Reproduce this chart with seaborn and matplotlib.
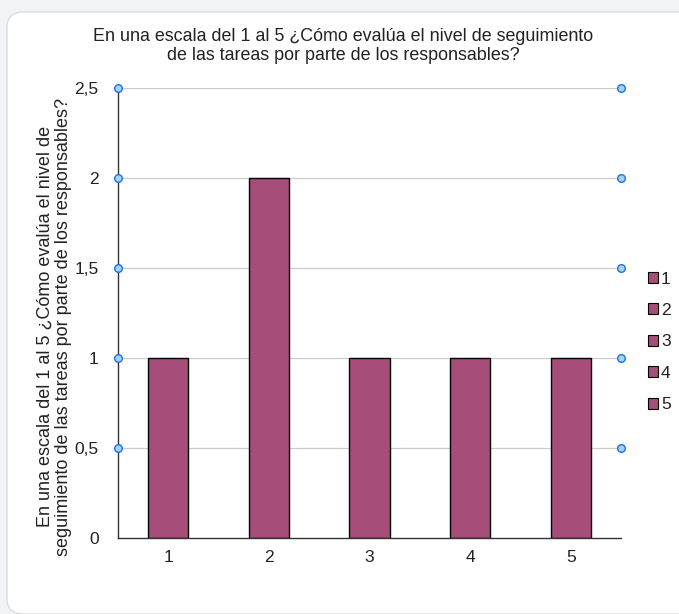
import matplotlib
matplotlib.use("Agg")
import matplotlib.pyplot as plt
import seaborn as sns
import pandas as pd
from matplotlib.patches import FancyBboxPatch, Patch

categories = ["1", "2", "3", "4", "5"]
values = [1, 2, 1, 1, 1]
yticks = [0, 0.5, 1, 1.5, 2, 2.5]
ytick_labels = ["0", "0,5", "1", "1,5", "2", "2,5"]
title = "En una escala del 1 al 5 ¿Cómo evalúa el nivel de seguimiento\nde las tareas por parte de los responsables?"
ylabel = "En una escala del 1 al 5 ¿Cómo evalúa el nivel de\nseguimiento de las tareas por parte de los responsables?"

bar_color = "#a64d79"

sns.set_theme(style="white")
plt.rcParams['font.family'] = ['Liberation Sans', 'DejaVu Sans']

W, H = 679, 614
fig = plt.figure(figsize=(W / 100, H / 100), dpi=100)
fig.patch.set_facecolor("#f1f3f4")

# card
card = FancyBboxPatch((7 / W, 0), (W + 20 - 7) / W, (H - 10 - 2) / H,
                      boxstyle="round,pad=0,rounding_size=0.025",
                      transform=fig.transFigure, facecolor="white",
                      edgecolor="#dadce0", linewidth=1.0, zorder=-5)
fig.patches.append(card)

ax = fig.add_axes([118 / W, (H - 538) / H, (621 - 118) / W, (538 - 88) / H])
ax.set_facecolor("none")
ax.set_zorder(2)

df = pd.DataFrame({"cat": categories, "val": values})
sns.barplot(data=df, x="cat", y="val", hue="cat",
            palette={c: bar_color for c in categories},
            width=0.4, edgecolor="black", linewidth=1.0, ax=ax,
            legend=False, zorder=3, saturation=1)

ax.set_xlim(-0.5, 4.5)
ax.set_ylim(0, 2.5)
ax.set_yticks(yticks)
ax.set_yticklabels(ytick_labels, fontsize=12.5, color="#222222")
ax.tick_params(axis="x", labelsize=12.5, colors="#222222", length=0, pad=9)
ax.tick_params(axis="y", length=0, pad=14)
ax.set_xlabel("")
ax.set_ylabel(ylabel, fontsize=13, color="#222222", linespacing=1.1, va="center")
ax.yaxis.set_label_coords(-0.127, 0.47)

for y in yticks[1:]:
    ax.axhline(y, color="#cccccc", linewidth=0.9, zorder=1)

for s in ["top", "right"]:
    ax.spines[s].set_visible(False)
for s in ["left", "bottom"]:
    ax.spines[s].set_color("#333333")
    ax.spines[s].set_linewidth(1.0)
    ax.spines[s].set_zorder(4)

# selection handles
hy = yticks[1:]
ax.scatter([-0.5] * len(hy), hy, s=30, facecolor="#a8d1f7", edgecolor="#1a73e8",
           linewidth=1.0, zorder=6, clip_on=False)
ax.scatter([4.5] * len(hy), hy, s=30, facecolor="#a8d1f7", edgecolor="#1a73e8",
           linewidth=1.0, zorder=6, clip_on=False)

fig.text(343 / W, 1 - 46 / H, title, ha="center", va="center", fontsize=12.9,
         color="#222222", linespacing=1.1)

# legend
handles = [Patch(facecolor=bar_color, edgecolor="black", linewidth=0.8) for _ in categories]
leg = fig.legend(handles, categories, loc="center left",
                 bbox_to_anchor=(648 / W, 1 - 342 / H), frameon=False,
                 fontsize=12.5, handlelength=0.6, handleheight=0.6,
                 handletextpad=0.15, labelspacing=0.95, borderpad=0,
                 borderaxespad=0)
for t in leg.get_texts():
    t.set_color("#222222")

fig.savefig("out.png", dpi=100, facecolor=fig.get_facecolor())
